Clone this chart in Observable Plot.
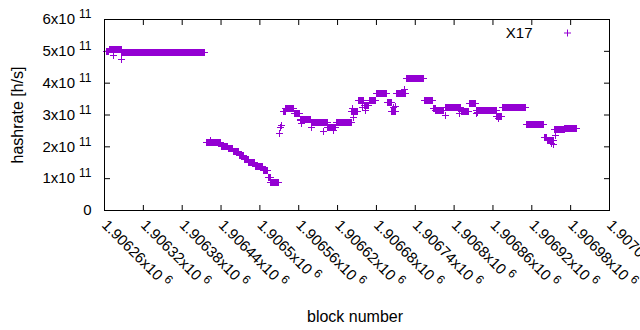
<!DOCTYPE html>
<html><head><meta charset="utf-8">
<script src="https://cdn.jsdelivr.net/npm/d3@7"></script>
<script src="https://cdn.jsdelivr.net/npm/@observablehq/plot@0.6"></script>
<style>
body{margin:0;background:#fff;}
svg{font-family:"Liberation Sans",Arial,sans-serif;}
</style>
</head><body><div id="chart"></div>
<script>
// runs of consecutive blocks sharing the same hashrate (units of 1e11 h/s)
const runStart = [1906263,1906268,1906287,1906418,1906440,1906451,1906459,1906468,1906476,1906483,1906493,1906505,1906513,1906517,
  1906536,1906540,1906553,1906562,1906579,1906605,1906618,1906642,1906652,1906661,1906669,1906680,1906697,1906704,1906711,1906726,
  1906754,1906768,1906772,1906787,1906811,1906823,1906834,1906866,1906874,1906912,1906939,1906944,1906955,1906971];
const runEnd = [1906266,1906286,1906415,1906439,1906450,1906458,1906467,1906475,1906482,1906492,1906504,1906512,1906516,1906529,
  1906539,1906552,1906561,1906578,1906604,1906617,1906641,1906651,1906660,1906668,1906679,1906696,1906703,1906710,1906725,1906753,
  1906767,1906771,1906784,1906810,1906822,1906833,1906865,1906873,1906911,1906938,1906943,1906954,1906970,1906989];
const runValue = [5.00,5.06,4.95,2.14,2.01,1.95,1.84,1.73,1.60,1.51,1.37,1.26,1.05,0.88,
  3.12,3.20,3.06,2.87,2.78,2.60,2.78,3.10,3.47,3.30,3.46,3.69,3.39,3.11,3.69,4.16,
  3.46,3.19,3.14,3.22,3.11,3.35,3.13,2.95,3.25,2.69,2.28,2.20,2.56,2.59];
// isolated points
const extraBlock = [1906274,1906287,1906424,1906530,1906532,1906534,1906562,1906564,1906580,1906598,1906614,1906643,1906645,
  1906659,1906663,1906707,1906709,1906724,1906786,1906808,1906834,1906836,1906869,1906950,1906953,1906956];
const extraValue = [4.86,4.75,2.19,2.41,2.60,2.68,2.83,2.73,2.62,2.48,2.51,3.20,2.93,
  3.22,3.14,3.22,3.27,3.80,2.98,3.05,3.05,3.08,2.90,2.12,2.07,2.36];

const xTicks = [1906260,1906320,1906380,1906440,1906500,1906560,1906620,1906680,1906740,1906800,1906860,1906920,1906980,1907040];
const xTickLabels = ["1.90626x10^6","1.90632x10^6","1.90638x10^6","1.90644x10^6","1.9065x10^6","1.90656x10^6","1.90662x10^6",
  "1.90668x10^6","1.90674x10^6","1.9068x10^6","1.90686x10^6","1.90692x10^6","1.90698x10^6","1.90704x10^6"];
const yTicks = [0,1,2,3,4,5,6];
const yTickLabels = ["0","1x10^11","2x10^11","3x10^11","4x10^11","5x10^11","6x10^11"];
const seriesName = "X17";
const xTitle = "block number";
const yTitle = "hashrate [h/s]";

const points = [];
runStart.forEach((s, i) => { for (let b = s; b <= runEnd[i]; b++) points.push({block: b, rate: runValue[i]}); });
extraBlock.forEach((b, i) => points.push({block: b, rate: extraValue[i]}));

const plusSymbol = {draw(ctx, size) {
  const h = Math.sqrt(size / Math.PI);
  ctx.moveTo(-h, 0); ctx.lineTo(h, 0); ctx.moveTo(0, -h); ctx.lineTo(0, h);
}};
const color = "#9400d3";

const chart = Plot.plot({
  width: 640, height: 330,
  marginLeft: 104, marginRight: 31, marginTop: 19, marginBottom: 120,
  style: {fontFamily: "Liberation Sans, Arial, sans-serif", fontSize: "15px", background: "#fff", color: "#000", overflow: "hidden"},
  x: {domain: [1906260, 1907040]},
  y: {domain: [0, 6]},
  marks: [
    Plot.axisX({anchor: "bottom", ticks: xTicks, tickSize: -5, tickFormat: () => "", label: null, stroke: "#000"}),
    Plot.axisX({anchor: "top", ticks: xTicks, tickSize: -5, tickFormat: () => "", label: null, stroke: "#000"}),
    Plot.axisY({anchor: "left", ticks: yTicks, tickSize: -6, tickFormat: () => "", label: null, stroke: "#000"}),
    Plot.axisY({anchor: "right", ticks: yTicks, tickSize: -6, tickFormat: () => "", label: null, stroke: "#000"}),
    Plot.text(xTicks, {x: d => d, text: (d, i) => xTickLabels[i], frameAnchor: "bottom", rotate: 45, textAnchor: "start", lineAnchor: "middle", dx: 0, dy: 12, fill: "#000"}),
    Plot.text(yTicks, {y: d => d, text: (d, i) => yTickLabels[i], frameAnchor: "left", textAnchor: "end", lineAnchor: "middle", dx: -13, fill: "#000"}),
    Plot.text([xTitle], {frameAnchor: "bottom", textAnchor: "middle", lineAnchor: "middle", dy: 106, dx: -2, fill: "#000", fontSize: 16}),
    Plot.text([yTitle], {frameAnchor: "left", textAnchor: "middle", lineAnchor: "middle", rotate: -90, dx: -87, fill: "#000", fontSize: 16}),
    Plot.text([seriesName], {frameAnchor: "top-right", textAnchor: "end", lineAnchor: "middle", dx: -77, dy: 14, fill: "#000"}),
    Plot.dot([seriesName], {frameAnchor: "top-right", dx: -42, dy: 13.5, symbol: plusSymbol, r: 3.5, stroke: color, fill: "none", strokeWidth: 1}),
    Plot.dot(points, {x: "block", y: "rate", symbol: plusSymbol, r: 3.5, stroke: color, fill: "none", strokeWidth: 1, shapeRendering: "crispEdges"}),
    Plot.frame({stroke: "#000"})
  ]
});

d3.select(chart).selectAll("text").each(function() {
  const t = this.textContent;
  if (!t.includes("^")) return;
  const [base, sup] = t.split("^");
  const sel = d3.select(this);
  sel.text(null);
  sel.append("tspan").text(base);
  sel.append("tspan").attr("dx", 4).attr("dy", -6).attr("font-size", 12).text(sup);
});

document.getElementById("chart").appendChild(chart);
</script>
</body></html>
